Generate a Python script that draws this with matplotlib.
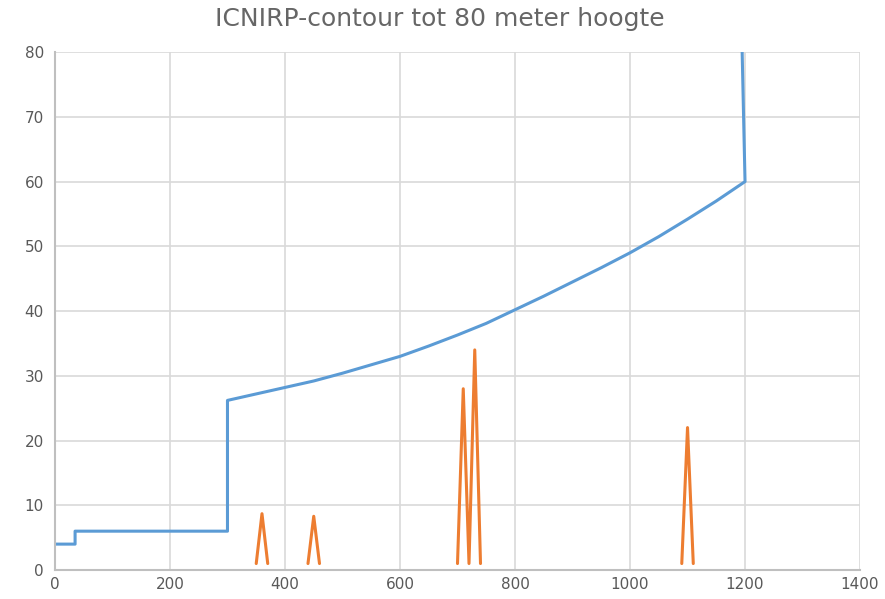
import numpy as np
import matplotlib
matplotlib.use("Agg")
from matplotlib import pyplot as plt

# blue contour line
contour_x = [0, 35, 35, 300, 300, 350, 400, 450, 500, 550, 600, 650, 700, 750, 800,
             850, 900, 950, 1000, 1050, 1100, 1150, 1200, 1195]
contour_y = [4, 4, 6, 6, 26.2, 27.2, 28.2, 29.2, 30.4, 31.7, 33.0, 34.6, 36.3, 38.1, 40.2,
             42.3, 44.5, 46.7, 49.0, 51.5, 54.2, 57.0, 60.0, 80]

# orange spikes (gaps between them)
spike_x = [350, 360, 370, None, 440, 450, 460, None, 700, 710, 720, 730, 740, None, 1090, 1100, 1110]
spike_y = [1, 8.7, 1, None, 1, 8.3, 1, None, 1, 28, 1, 34, 1, None, 1, 22, 1]

x_ticks = [0, 200, 400, 600, 800, 1000, 1200, 1400]
y_ticks = [0, 10, 20, 30, 40, 50, 60, 70, 80]
title = "ICNIRP-contour tot 80 meter hoogte"

sx = np.array([np.nan if v is None else v for v in spike_x], dtype=float)
sy = np.array([np.nan if v is None else v for v in spike_y], dtype=float)

fig = plt.figure(figsize=(8.85, 5.99), dpi=100)
ax = fig.add_axes([0.0621, 0.0484, 0.9097, 0.8646])

ax.plot(contour_x, contour_y, color="#5B9BD5", lw=2.2, solid_joinstyle="round")
ax.plot(sx, sy, color="#ED7D31", lw=2.2, solid_capstyle="round")

ax.set_xlim(0, 1400)
ax.set_ylim(0, 80)
ax.set_xticks(x_ticks)
ax.set_yticks(y_ticks)
ax.grid(True, color="#D9D9D9", lw=1.2)
ax.set_axisbelow(True)
for s in ["top", "right"]:
    ax.spines[s].set_visible(False)
for s in ["left", "bottom"]:
    ax.spines[s].set_color("#BFBFBF")
    ax.spines[s].set_linewidth(1.5)
ax.tick_params(length=0, labelsize=11, labelcolor="#595959", pad=8)
ax.tick_params(axis="x", pad=5)

fig.text(0.497, 0.968, title, ha="center", va="center", fontsize=18, color="#666666")

fig.savefig("out.png", dpi=100)
